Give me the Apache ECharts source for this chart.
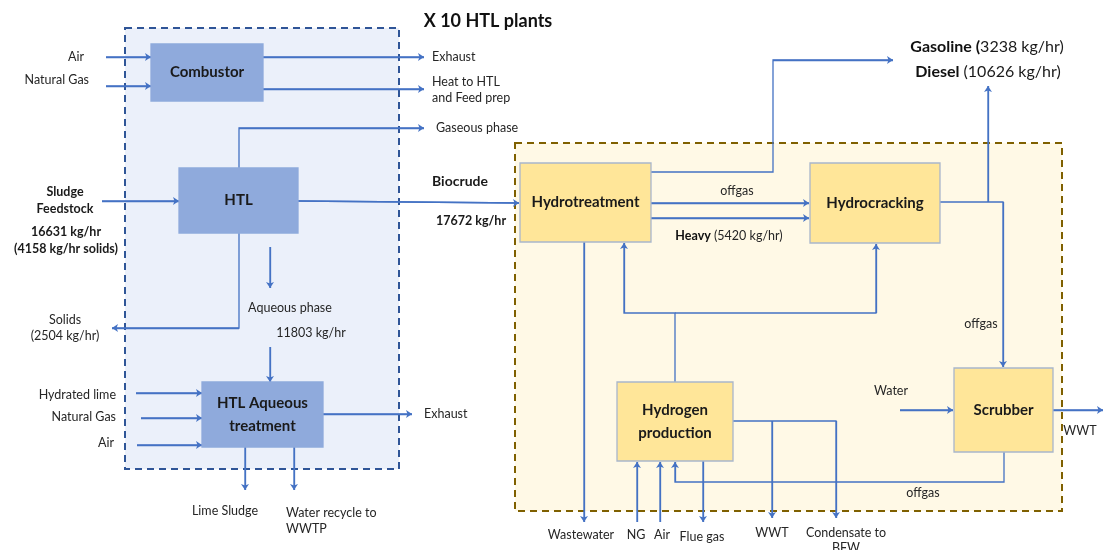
<!DOCTYPE html>
<html>
<head>
<meta charset="utf-8">
<script src="https://cdn.jsdelivr.net/npm/echarts@6/dist/echarts.min.js"></script>
<style>html,body{margin:0;padding:0;background:#fff}#c{width:1103px;height:550px}</style>
</head>
<body>
<div id="c"></div>
<script>
// ---- Diagram data ----
// dashed process regions: [name, x0, y0, x1, y1, kind]
const regions = [
  ['HTL plant', 125, 28, 399, 469, 'blue'],
  ['Upgrading', 515, 143, 1062, 511, 'yellow']
];
// process units: [label, x0, y0, x1, y1, kind]
const units = [
  ['Combustor', 151, 44, 263, 101, 'blue'],
  ['HTL', 179, 168, 298, 233, 'blue'],
  ['HTL Aqueous\ntreatment', 202, 382, 323, 447, 'blue'],
  ['Hydrotreatment', 520, 163, 651, 242, 'yellow'],
  ['Hydrocracking', 810, 163, 940, 243, 'yellow'],
  ['Hydrogen\nproduction', 617, 382, 733, 461, 'yellow'],
  ['Scrubber', 954, 368, 1053, 452, 'yellow']
];
// streams: polylines ending with an arrow
const streams = [
  [[106, 57], [151, 57]],
  [[106, 86], [151, 86]],
  [[263, 57], [424, 57]],
  [[263, 89], [424, 89]],
  [[239, 168], [239, 128], [424, 128]],
  [[102, 201], [179, 201]],
  [[298, 201], [519, 203]],
  [[270, 247], [270, 288]],
  [[239, 233], [239, 328], [112, 328]],
  [[270, 347], [270, 382]],
  [[136, 393], [202, 393]],
  [[141, 418], [202, 418]],
  [[137, 445], [202, 445]],
  [[323, 414], [412, 414]],
  [[245, 447], [245, 490]],
  [[294, 447], [294, 490]],
  [[651, 172], [773, 172], [773, 60], [893, 60]],
  [[651, 203], [809, 203]],
  [[651, 218], [809, 218]],
  [[940, 202], [1003, 202], [1003, 367]],
  [[988, 202], [988, 86]],
  [[675, 382], [675, 313], [624, 313], [624, 243]],
  [[675, 313], [876, 313], [876, 244]],
  [[584, 242], [584, 522]],
  [[900, 410], [953, 410]],
  [[1053, 410], [1103, 410]],
  [[1004, 452], [1004, 482], [675, 482], [675, 462]],
  [[637, 522], [637, 462]],
  [[660, 522], [660, 462]],
  [[703, 461], [703, 522]],
  [[733, 421], [836, 421], [836, 518]],
  [[772, 421], [772, 518]]
];
// text labels: [text, x, y, align, style]
const labels = [
  ['X 10 HTL plants', 488, 21, 'center', 'title'],
  ['Air', 84, 57, 'right', 'n'],
  ['Natural Gas', 89, 80, 'right', 'n'],
  ['Exhaust', 432, 57, 'left', 'n'],
  ['Heat to HTL', 432, 82, 'left', 'n'],
  ['and Feed prep', 432, 98, 'left', 'n'],
  ['Gaseous phase', 436, 128, 'left', 'n'],
  ['Sludge', 65, 192, 'center', 'b'],
  ['Feedstock', 65, 209, 'center', 'b'],
  ['16631 kg/hr', 66, 232, 'center', 'b'],
  ['(4158 kg/hr solids)', 66, 249, 'center', 'b'],
  ['Biocrude', 460, 181, 'center', 'bl'],
  ['17672 kg/hr', 471, 221, 'center', 'b'],
  ['Aqueous phase', 290, 308, 'center', 'n'],
  ['11803 kg/hr', 311, 333, 'center', 'n'],
  ['Solids', 65, 320, 'center', 'n'],
  ['(2504 kg/hr)', 65, 336, 'center', 'n'],
  ['Hydrated lime', 116, 395, 'right', 'n'],
  ['Natural Gas', 116, 417, 'right', 'n'],
  ['Air', 114, 443, 'right', 'n'],
  ['Exhaust', 424, 414, 'left', 'n'],
  ['Lime Sludge', 225, 511, 'center', 'n'],
  ['Water recycle to', 286, 513, 'left', 'n'],
  ['WWTP', 286, 529, 'left', 'n'],
  ['{b|Gasoline (}3238 kg/hr)', 987, 47, 'center', 'big'],
  ['{b|Diesel} (10626 kg/hr)', 988, 72, 'center', 'big'],
  ['offgas', 737, 191, 'center', 'n'],
  ['{b|Heavy} (5420 kg/hr)', 729, 236, 'center', 'n'],
  ['offgas', 981, 324, 'center', 'n'],
  ['Water', 891, 391, 'center', 'n'],
  ['WWT', 1080, 431, 'center', 'n'],
  ['offgas', 923, 493, 'center', 'n'],
  ['Wastewater', 581, 535, 'center', 'n'],
  ['NG', 636, 535, 'center', 'n'],
  ['Air', 662, 535, 'center', 'n'],
  ['Flue gas', 702, 537, 'center', 'n'],
  ['WWT', 772, 533, 'center', 'n'],
  ['Condensate to', 846, 533, 'center', 'n'],
  ['BFW', 846, 548, 'center', 'n']
];

// ---- styling ----
const FONT = 'Lato, "Open Sans", sans-serif';
const LINE = '#4472C4';
const regionStyle = {
  blue: { fill: '#EBF0FA', stroke: '#2F5597' },
  yellow: { fill: '#FFF9E6', stroke: '#7F6000' }
};
const unitStyle = {
  blue: { fill: '#8FAADC', stroke: '#8FAADC' },
  yellow: { fill: '#FFE699', stroke: '#A9B6CC' }
};
const textStyle = {
  title: { fontSize: 18, fontWeight: 'bold', fill: '#111' },
  n: { fontSize: 12.5, fontWeight: 'normal', fill: '#262626' },
  b: { fontSize: 12.5, fontWeight: 'bold', fill: '#1a1a1a' },
  bl: { fontSize: 14, fontWeight: 'bold', fill: '#1a1a1a' },
  big: { fontSize: 16, fontWeight: 'normal', fill: '#1a1a1a' }
};

const chart = echarts.init(document.getElementById('c'), null, { renderer: 'canvas' });

function rectRender(list, styles, isRegion) {
  return function (params, api) {
    const it = list[params.dataIndex];
    const p0 = api.coord([api.value(0), api.value(1)]);
    const p1 = api.coord([api.value(2), api.value(3)]);
    const st = styles[it[5]];
    const rect = {
      type: 'rect',
      shape: { x: p0[0], y: p0[1], width: p1[0] - p0[0], height: p1[1] - p0[1] },
      style: {
        fill: st.fill, stroke: st.stroke,
        lineWidth: isRegion ? 2 : 1.3,
        lineDash: isRegion ? [7, 5] : null
      }
    };
    if (isRegion) return rect;
    return {
      type: 'group',
      children: [rect, {
        type: 'text',
        x: (p0[0] + p1[0]) / 2, y: (p0[1] + p1[1]) / 2,
        style: {
          text: it[0], fontFamily: FONT, fontSize: 15, fontWeight: 'bold',
          fill: '#1a1a1a', align: 'center', verticalAlign: 'middle', lineHeight: 23
        }
      }]
    };
  };
}

chart.setOption({
  animation: false,
  grid: { left: 0, right: 0, top: 0, bottom: 0 },
  xAxis: { type: 'value', min: 0, max: 1103, show: false },
  yAxis: { type: 'value', min: 0, max: 550, inverse: true, show: false },
  series: [
    {
      type: 'custom', z: 1, clip: false,
      renderItem: rectRender(regions, regionStyle, true),
      encode: { x: [0, 2], y: [1, 3] },
      data: regions.map(r => [r[1], r[2], r[3], r[4]])
    },
    {
      type: 'lines', coordinateSystem: 'cartesian2d', polyline: true, z: 3,
      symbol: 'none',
      lineStyle: { color: LINE, width: 1.3, opacity: 1 },
      data: streams.map(s => ({ coords: s }))
    },
    {
      type: 'lines', coordinateSystem: 'cartesian2d', polyline: false, z: 3,
      symbol: ['none', 'arrow'], symbolSize: [0, 6],
      lineStyle: { color: LINE, width: 1.3, opacity: 1 },
      data: streams.map(s => ({ coords: s.slice(-2) }))
    },
    {
      type: 'custom', z: 4, clip: false,
      renderItem: rectRender(units, unitStyle, false),
      encode: { x: [0, 2], y: [1, 3] },
      data: units.map(u => [u[1], u[2], u[3], u[4]])
    },
    {
      type: 'custom', z: 5, clip: false,
      renderItem: function (params, api) {
        const it = labels[params.dataIndex];
        const p = api.coord([api.value(0), api.value(1)]);
        const st = textStyle[it[4]];
        return {
          type: 'text', x: p[0], y: p[1],
          style: {
            text: it[0], fontFamily: FONT, fontSize: st.fontSize, fontWeight: st.fontWeight,
            fill: st.fill, align: it[3], verticalAlign: 'middle',
            rich: { b: { fontFamily: FONT, fontSize: st.fontSize, fontWeight: 'bold', fill: '#111' } }
          }
        };
      },
      encode: { x: 0, y: 1 },
      data: labels.map(l => [l[1], l[2]])
    }
  ]
});
</script>
</body>
</html>
